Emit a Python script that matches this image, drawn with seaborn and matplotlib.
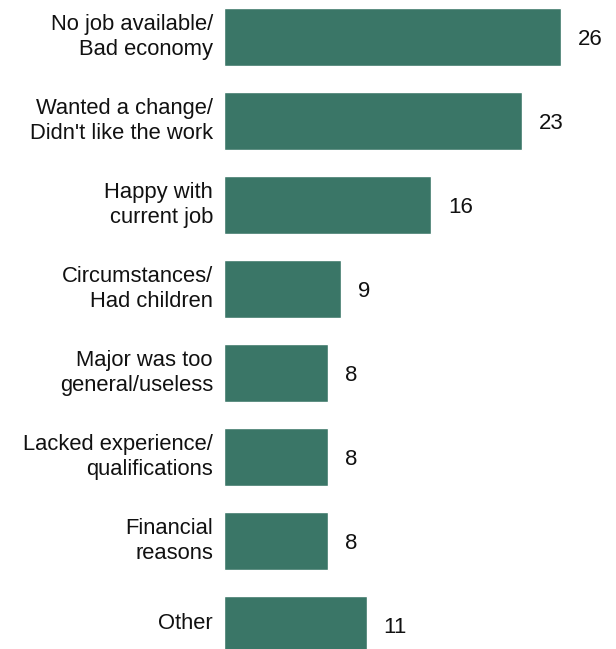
import seaborn as sns
import matplotlib.pyplot as plt
import matplotlib.transforms as mtransforms

reasons = ["No job available/\nBad economy",
           "Wanted a change/\nDidn't like the work",
           "Happy with\ncurrent job",
           "Circumstances/\nHad children",
           "Major was too\ngeneral/useless",
           "Lacked experience/\nqualifications",
           "Financial\nreasons",
           "Other"]
shares = [26, 23, 16, 9, 8, 8, 8, 11]

sns.set_style("white")
plt.rcParams['font.family'] = ['Liberation Sans', 'DejaVu Sans']

fig = plt.figure(figsize=(6.16, 6.49), dpi=100)
ax = fig.add_axes([224 / 616, 0, 389 / 616, 1])

sns.barplot(x=shares, y=reasons, color="#3a7667", saturation=1, width=0.69, ax=ax)

for i, v in enumerate(shares):
    ax.text(v + 1.3, i + 0.03, str(v), va="center", ha="left", fontsize=16,
            color="#111111")

ax.set_xlim(0, 30)
ax.set_ylim(7.286, -0.44)
ax.set_xlabel("")
ax.set_ylabel("")
ax.set_xticks([])
ax.tick_params(axis="y", length=0, pad=8, labelsize=15.8, labelcolor="#111111")
# nudge category labels up a little
shift = mtransforms.ScaledTranslation(0, 4 / 100, fig.dpi_scale_trans)
for lbl in ax.get_yticklabels():
    lbl.set_linespacing(1.25)
    lbl.set_transform(lbl.get_transform() + shift)
sns.despine(ax=ax, left=True, bottom=True)

fig.savefig("out.png", dpi=100)
